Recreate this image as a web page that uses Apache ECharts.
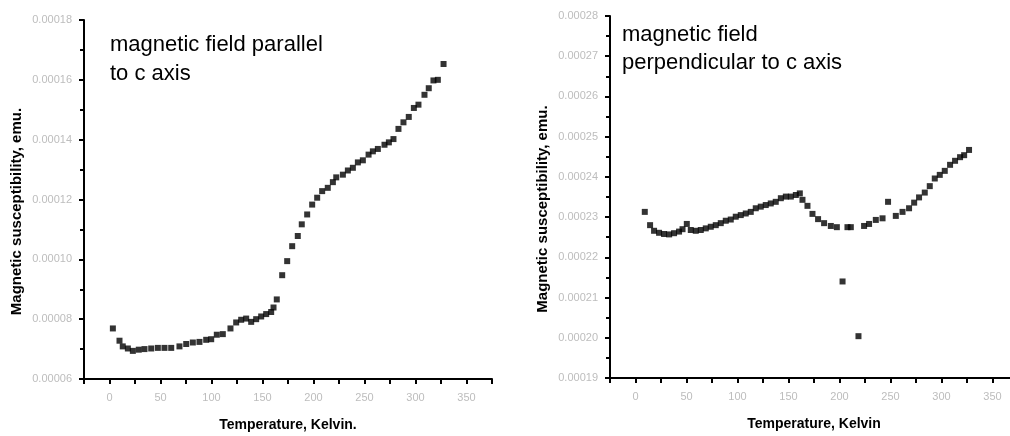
<!DOCTYPE html>
<html>
<head>
<meta charset="utf-8">
<script src="https://cdn.jsdelivr.net/npm/echarts@6/dist/echarts.min.js"></script>
<style>
  html, body { margin: 0; padding: 0; background: #fff; }
  #chart { width: 1010px; height: 436px; }
</style>
</head>
<body>
<div id="chart"></div>
<script>
// parallel to c axis: temperature (K) and susceptibility (emu)
const parT = [3.3, 9.8, 13, 18, 22.9, 28.7, 34.3, 40.9, 47.4, 53.9, 60.5, 68.6, 75.2, 81.7, 88.2, 94.8, 99.7,
  105.2, 111.1, 118.6, 124.2, 129.1, 134, 138.9, 143.8, 148.7, 153.6, 158.5, 160.8, 164,
  169.3, 174.2, 179.1, 184.6, 188.5, 193.8, 198.7, 203.6, 208.5, 214, 219, 222.3, 228.8, 233.7,
  238.6, 243.5, 248.4, 254, 258.2, 263.1, 269.6, 273.9, 278.4, 283.3, 288.2, 293.4, 298.4,
  302.9, 308.8, 313, 317.6, 321.9, 327.5];
const parChi = [0.0000769, 0.0000728, 0.0000709, 0.0000702, 0.0000694, 0.0000698, 0.00007, 0.0000702, 0.0000704,
  0.0000704, 0.0000704, 0.0000709, 0.0000717, 0.0000722, 0.0000724, 0.0000731, 0.0000733,
  0.0000748, 0.000075, 0.0000769, 0.0000789, 0.0000798, 0.0000802, 0.0000791, 0.00008, 0.0000809,
  0.0000817, 0.0000824, 0.0000839, 0.0000866,
  0.0000947, 0.0000994, 0.0001044, 0.0001078, 0.0001117, 0.000115, 0.0001183, 0.0001206, 0.0001228,
  0.0001239, 0.0001258, 0.0001274, 0.0001283, 0.0001297,
  0.0001306, 0.0001324, 0.0001331, 0.000135, 0.0001361, 0.0001369, 0.0001383, 0.0001391, 0.0001402,
  0.0001436, 0.0001458, 0.0001476, 0.0001506,
  0.0001517, 0.000155, 0.0001572, 0.0001598, 0.00016, 0.0001653];

// perpendicular to c axis
const perpT = [9.1, 14.3, 18.2, 23.1, 28, 33, 37.8, 42.7, 46.1, 50.3, 54.2, 59.1, 64, 68.9, 73.8, 78.7, 83.6,
  88.5, 93.4, 98.3, 103.2, 108.1, 113, 117.9, 122.8, 127.7, 132.6, 137.5, 142.5, 147.4, 152.3,
  157.2, 161.1, 163.7, 168.6, 173.5, 179, 184.9, 191.5, 197.4, 203, 207.8, 211.1, 218.6, 224.1,
  229, 235.6, 242.2, 247.6, 255.2, 261.8, 268.2, 273.2, 278, 283.6, 288.5, 293.4, 298.3, 303.2,
  308.4, 313.3, 318.2, 322.2, 327];
const perpChi = [0.0002313, 0.000228, 0.0002266, 0.0002261, 0.0002258, 0.0002257, 0.000226, 0.0002264, 0.000227,
  0.0002283, 0.0002268, 0.0002266, 0.0002268, 0.0002272, 0.0002276, 0.000228, 0.0002285,
  0.0002291, 0.0002294, 0.0002301, 0.0002305, 0.0002309, 0.0002313, 0.0002322, 0.0002326, 0.000233,
  0.0002334, 0.0002338, 0.0002347, 0.0002351, 0.0002351,
  0.0002355, 0.0002359, 0.0002343, 0.0002328, 0.0002308, 0.0002295, 0.0002285, 0.0002278, 0.0002275,
  0.000214, 0.0002275, 0.0002275, 0.0002004, 0.0002278,
  0.0002283, 0.0002293, 0.0002297, 0.0002338, 0.0002303, 0.0002313, 0.0002322, 0.0002336, 0.0002349,
  0.0002361, 0.0002377, 0.0002396, 0.0002405, 0.0002415,
  0.000243, 0.000244, 0.0002449, 0.0002454, 0.0002467];

const xTitles = ['Temperature, Kelvin.', 'Temperature, Kelvin'];
const yTitles = ['Magnetic susceptibility, emu.', 'Magnetic susceptibility, emu.'];
const notes = ['magnetic field parallel\nto c axis', 'magnetic field\nperpendicular to c axis'];

function pairs(xs, ys) {
  return xs.map(function (x, i) { return [x, ys[i]]; });
}

const font = 'Liberation Sans, Arial, sans-serif';
const lineStyle = { color: '#000', width: 2 };
const tickLabel = { color: '#bdbdbd', fontSize: 11, fontFamily: font };

function xAxis(idx, title) {
  return {
    type: 'value', gridIndex: idx, min: -25, max: 375, interval: 25,
    axisLine: { show: true, onZero: false, lineStyle: lineStyle },
    axisTick: { show: true, length: 5, lineStyle: { color: '#000', width: 2 } },
    axisLabel: Object.assign({ margin: 13, formatter: function (v) { return v % 50 === 0 ? String(v) : ''; } }, tickLabel),
    splitLine: { show: false },
    name: title, nameLocation: 'middle', nameGap: 39,
    nameTextStyle: { color: '#000', fontSize: 14, fontWeight: 'bold', fontFamily: font }
  };
}

function yAxis(idx, min, max, interval, title) {
  return {
    type: 'value', gridIndex: idx, min: min, max: max, interval: interval,
    axisLine: { show: true, onZero: false, lineStyle: lineStyle },
    axisTick: { show: true, length: 5, lineStyle: { color: '#000', width: 2 } },
    minorTick: { show: true, splitNumber: 2, length: 4, lineStyle: { color: '#000', width: 2 } },
    axisLabel: Object.assign({ margin: 12, formatter: function (v) { return v.toFixed(5); } }, tickLabel),
    splitLine: { show: false },
    name: title, nameLocation: 'middle', nameGap: 60,
    nameTextStyle: { color: '#000', fontSize: 15, fontWeight: 'bold', fontFamily: font, padding: [0, 24, 0, 0] }
  };
}

const chart = echarts.init(document.getElementById('chart'));
chart.setOption({
  animation: false,
  backgroundColor: '#fff',
  grid: [
    { left: 84, top: 20, width: 408, height: 359, outerBoundsMode: 'none', containLabel: false },
    { left: 610, top: 16, width: 408, height: 362, outerBoundsMode: 'none', containLabel: false }
  ],
  xAxis: [xAxis(0, xTitles[0]), xAxis(1, xTitles[1])],
  yAxis: [
    yAxis(0, 0.00006, 0.00018, 0.00002, yTitles[0]),
    yAxis(1, 0.00019, 0.00028, 0.00001, yTitles[1])
  ],
  series: [
    { type: 'scatter', xAxisIndex: 0, yAxisIndex: 0, symbol: 'rect', symbolSize: 6,
      itemStyle: { color: '#000' }, data: pairs(parT, parChi) },
    { type: 'scatter', xAxisIndex: 1, yAxisIndex: 1, symbol: 'rect', symbolSize: 6,
      itemStyle: { color: '#000' }, data: pairs(perpT, perpChi) }
  ],
  graphic: [
    { type: 'text', left: 110, top: 30,
      style: { text: notes[0], fill: '#000', font: '22px ' + font, lineHeight: 29 } },
    { type: 'text', left: 622, top: 21,
      style: { text: notes[1], fill: '#000', font: '22px ' + font, lineHeight: 28 } }
  ]
});
</script>
</body>
</html>
